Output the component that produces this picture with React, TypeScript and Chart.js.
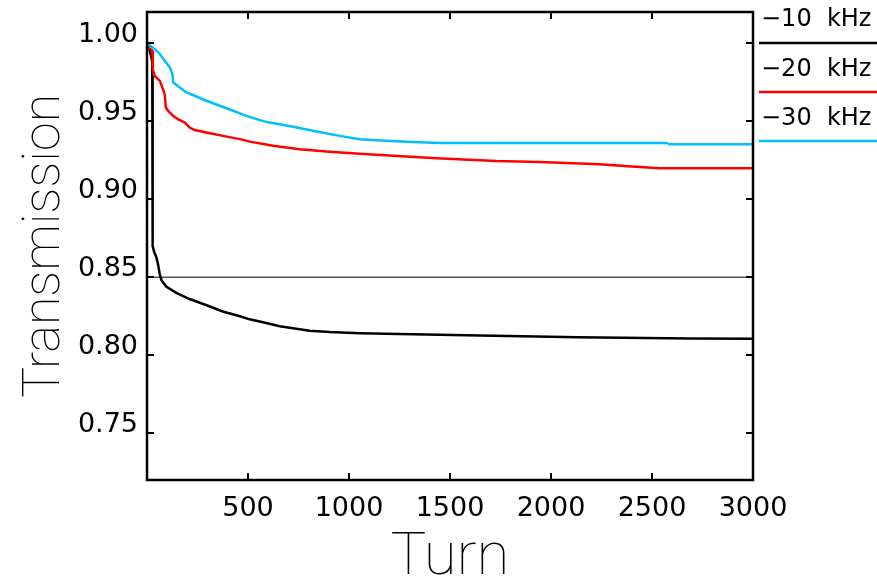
import React, { useEffect, useRef } from 'react';
import { Chart, registerables } from 'chart.js';

Chart.register(...registerables);

// ---- data ----
const turns10 = [0, 10, 20, 26, 28, 36, 46, 55, 63, 72, 95, 145, 211, 295, 375, 460, 508, 580, 657, 805, 904, 1053, 1315, 1647, 2132, 2687, 3000];
const trans10 = [1.0, 0.997, 0.992, 0.988, 0.870, 0.866, 0.863, 0.858, 0.852, 0.848, 0.844, 0.840, 0.836, 0.832, 0.828, 0.825, 0.823, 0.821, 0.8186, 0.8157, 0.8148, 0.8141, 0.8135, 0.8127, 0.8115, 0.8107, 0.8105];

const turns20 = [0, 5, 20, 27, 29, 38, 63, 79, 88, 93, 104, 129, 153, 187, 211, 236, 294, 376, 460, 509, 624, 756, 888, 1053, 1218, 1433, 1730, 1944, 2241, 2400, 2538, 3000];
const trans20 = [1.0, 0.9974, 0.996, 0.995, 0.983, 0.979, 0.976, 0.9706, 0.967, 0.9588, 0.9567, 0.9534, 0.9513, 0.9491, 0.9459, 0.9443, 0.9427, 0.9406, 0.9385, 0.9369, 0.9342, 0.932, 0.9305, 0.9292, 0.9279, 0.9262, 0.9245, 0.9239, 0.9224, 0.921, 0.9198, 0.9198];

const turns30 = [0, 20, 38, 63, 88, 113, 126, 129, 162, 195, 236, 294, 360, 426, 492, 558, 607, 723, 839, 954, 1053, 1136, 1284, 1449, 2571, 2587, 3000];
const trans30 = [1.0, 0.998, 0.9963, 0.9931, 0.9888, 0.9845, 0.9803, 0.9749, 0.9716, 0.9684, 0.9663, 0.9631, 0.9599, 0.9567, 0.9534, 0.9507, 0.9491, 0.9464, 0.9434, 0.9406, 0.9385, 0.9378, 0.9369, 0.9361, 0.9361, 0.9352, 0.9352];

const seriesLabels = ['\u221210  kHz', '\u221220  kHz', '\u221230  kHz'];
const seriesColors = ['#000000', '#ff0000', '#00bfff'];

const refLevel = 0.85;
const xMin = 0;
const xMax = 3000;
const yMin = 0.72;
const yMax = 1.02;
const xTickValues = [500, 1000, 1500, 2000, 2500, 3000];
const yTickValues = [0.75, 0.8, 0.85, 0.9, 0.95, 1.0];
const yTickLabels = ['0.75', '0.80', '0.85', '0.90', '0.95', '1.00'];
const xTitle = 'Turn';
const yTitle = 'Transmission';

const toPoints = (xs: number[], ys: number[]) => xs.map((x, i) => ({ x, y: ys[i] }));

const framePlugin = {
  id: 'frameAndLegend',
  afterDatasetsDraw(chart: any) {
    const { ctx, chartArea, scales } = chart;
    const { left, right, top, bottom } = chartArea;
    const x = scales.x;
    const y = scales.y;
    ctx.save();
    ctx.strokeStyle = '#000';
    ctx.lineWidth = 2.5;
    ctx.strokeRect(left, top, right - left, bottom - top);
    const len = 7;
    ctx.lineWidth = 2;
    ctx.beginPath();
    xTickValues.forEach((v) => {
      const px = Math.round(x.getPixelForValue(v));
      ctx.moveTo(px, bottom);
      ctx.lineTo(px, bottom - len);
      ctx.moveTo(px, top);
      ctx.lineTo(px, top + len);
    });
    yTickValues.forEach((v) => {
      const py = Math.round(y.getPixelForValue(v));
      ctx.moveTo(left, py);
      ctx.lineTo(left + len, py);
      ctx.moveTo(right, py);
      ctx.lineTo(right - len, py);
    });
    ctx.stroke();
    ctx.restore();
  },
  afterDraw(chart: any) {
    const { ctx, chartArea } = chart;
    const x0 = chartArea.right + 6;
    ctx.save();
    ctx.font = '24px "DejaVu Sans"';
    ctx.textAlign = 'left';
    ctx.textBaseline = 'middle';
    seriesLabels.forEach((label, i) => {
      ctx.fillStyle = '#000';
      ctx.fillText(label, x0 + 2, 20 + i * 49.5);
      ctx.strokeStyle = seriesColors[i];
      ctx.lineWidth = 2.5;
      ctx.beginPath();
      ctx.moveTo(x0, 43 + i * 49);
      ctx.lineTo(chart.width, 43 + i * 49);
      ctx.stroke();
    });
    ctx.restore();
  },
};

export default function App() {
  const canvasRef = useRef<HTMLCanvasElement | null>(null);

  useEffect(() => {
    if (!canvasRef.current) return;
    const chart = new Chart(canvasRef.current, {
      type: 'line',
      data: {
        datasets: [
          {
            label: seriesLabels[2],
            data: toPoints(turns30, trans30),
            borderColor: seriesColors[2],
            borderWidth: 2.5,
            order: 0,
          },
          {
            label: seriesLabels[1],
            data: toPoints(turns20, trans20),
            borderColor: seriesColors[1],
            borderWidth: 2.5,
            order: 1,
          },
          {
            label: seriesLabels[0],
            data: toPoints(turns10, trans10),
            borderColor: seriesColors[0],
            borderWidth: 2.5,
            order: 2,
          },
          {
            label: 'ref',
            data: [
              { x: xMin, y: refLevel },
              { x: xMax, y: refLevel },
            ],
            borderColor: '#000000',
            borderWidth: 1,
            order: 3,
          },
        ],
      },
      options: {
        responsive: false,
        animation: false,
        devicePixelRatio: 1,
        parsing: false,
        layout: { padding: { top: 12, right: 124, bottom: 0, left: 0 } },
        plugins: { legend: { display: false }, tooltip: { enabled: false } },
        elements: { point: { radius: 0 }, line: { tension: 0, fill: false } },
        scales: {
          x: {
            type: 'linear',
            min: xMin,
            max: xMax,
            grid: { display: false },
            border: { display: false },
            afterBuildTicks: (s: any) => {
              s.ticks = xTickValues.map((v) => ({ value: v }));
            },
            afterFit: (s: any) => {
              s.height = 97;
              s.paddingLeft = 0;
              s.paddingRight = 0;
            },
            ticks: {
              font: { family: 'DejaVu Sans', size: 27 },
              color: '#000',
              padding: 5,
              maxRotation: 0,
              autoSkip: false,
              callback: (v: any) => String(v),
            },
            title: {
              display: true,
              text: xTitle,
              color: '#000',
              font: { family: 'Roboto', size: 60, weight: '100', lineHeight: 0.5 },
              padding: { top: 0, bottom: 3 },
            },
          },
          y: {
            type: 'linear',
            min: yMin,
            max: yMax,
            grid: { display: false },
            border: { display: false },
            afterBuildTicks: (s: any) => {
              s.ticks = yTickValues.map((v) => ({ value: v }));
            },
            afterFit: (s: any) => {
              s.width = 147;
              s.paddingTop = 0;
              s.paddingBottom = 0;
            },
            ticks: {
              font: { family: 'DejaVu Sans', size: 27 },
              color: '#000',
              padding: 1,
              labelOffset: -8,
              autoSkip: false,
              callback: (v: any) => {
                const i = yTickValues.findIndex((t) => Math.abs(t - v) < 1e-9);
                return i >= 0 ? yTickLabels[i] : '';
              },
            },
            title: {
              display: true,
              text: yTitle,
              color: '#000',
              font: { family: 'Roboto', size: 52, weight: '100', lineHeight: 1 },
              padding: { top: 20, bottom: 0 },
            },
          },
        },
      },
      plugins: [framePlugin],
    });
    return () => chart.destroy();
  }, []);

  return (
    <div style={{ position: 'fixed', left: 0, top: 0, width: 877, height: 577, background: '#fff' }}>
      <canvas ref={canvasRef} width={877} height={577} style={{ display: 'block' }} />
    </div>
  );
}
